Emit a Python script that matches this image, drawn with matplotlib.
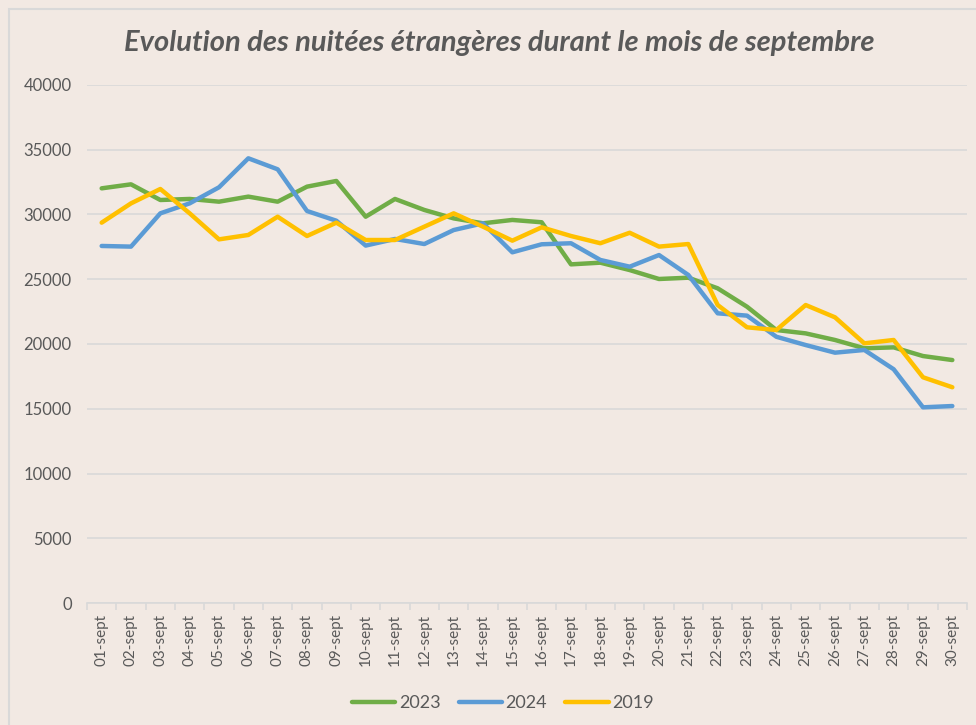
import matplotlib
matplotlib.use("Agg")
import matplotlib.pyplot as plt
from matplotlib.patches import Rectangle
from matplotlib.ticker import FixedLocator, MultipleLocator

days = [f"{d:02d}-sept" for d in range(1, 31)]
y2023 = [32020, 32330, 31120, 31200, 30990, 31380, 30990, 32150, 32590, 29830,
         31200, 30350, 29700, 29320, 29580, 29400, 26150, 26280, 25710, 25020,
         25120, 24300, 22880, 21080, 20820, 20310, 19670, 19740, 19070, 18760]
y2024 = [27570, 27520, 30090, 30860, 32100, 34340, 33490, 30270, 29520, 27600,
         28110, 27720, 28800, 29320, 27080, 27700, 27780, 26490, 25970, 26870,
         25330, 22370, 22190, 20560, 19920, 19330, 19540, 18050, 15110, 15210]
y2019 = [29370, 30860, 31970, 30090, 28080, 28420, 29830, 28340, 29370, 28030,
         28030, 29060, 30090, 29060, 27980, 29010, 28340, 27780, 28590, 27520,
         27720, 23010, 21290, 21080, 23010, 22060, 20050, 20310, 17430, 16660]
series = [("2023", y2023, "#70AD47"), ("2024", y2024, "#5B9BD5"), ("2019", y2019, "#FFC000")]

bg = "#F2E9E3"
txt = "#595959"
grid = "#D9D9D9"
plt.rcParams['font.family'] = ['Lato', 'DejaVu Sans']

fig = plt.figure(figsize=(9.76, 7.25), dpi=100, facecolor=bg)
frame = Rectangle((9/976, -0.1), 1.2, 1 - 9/725 + 0.1, transform=fig.transFigure,
                  facecolor='none', edgecolor=grid, linewidth=1.5, zorder=-10)
fig.add_artist(frame)
ax = fig.add_axes([87/976, 1 - 603/725, 880/976, (603 - 85)/725])
ax.set_facecolor('none')
x = list(range(len(days)))
for name, vals, col in series:
    ax.plot(x, vals, color=col, lw=3.2, label=name, solid_capstyle='round', solid_joinstyle='round')

ax.set_xlim(-0.5, len(days) - 0.5)
ax.set_ylim(0, 40000)
ax.yaxis.set_major_locator(MultipleLocator(5000))
ax.grid(axis='y', color=grid, lw=1.2)
ax.set_axisbelow(True)
for s in ['left', 'right', 'top']:
    ax.spines[s].set_visible(False)
ax.spines['bottom'].set_color(grid)
ax.spines['bottom'].set_linewidth(1.2)
ax.set_xticks(x)
ax.set_xticklabels(days, rotation=90, fontsize=11, color=txt)
ax.xaxis.set_minor_locator(FixedLocator([i - 0.5 for i in range(len(days) + 1)]))
ax.tick_params(axis='x', which='major', length=0, pad=8)
ax.tick_params(axis='x', which='minor', length=5, color=grid, width=1.2)
ax.tick_params(axis='y', length=0, labelsize=12, labelcolor=txt, pad=11)

fig.text(499/976, 1 - 43/725, "Evolution des nuitées étrangères durant le mois de septembre",
         ha='center', va='center', fontsize=21, fontweight='bold', fontstyle='italic', color=txt)

fig.legend(loc='center', bbox_to_anchor=(503/976, 1 - 703/725), ncol=3, frameon=False,
           fontsize=13, handlelength=2.4, handletextpad=0.2, columnspacing=1.0, labelcolor=txt)

fig.savefig("out.png", dpi=100, facecolor=bg)
